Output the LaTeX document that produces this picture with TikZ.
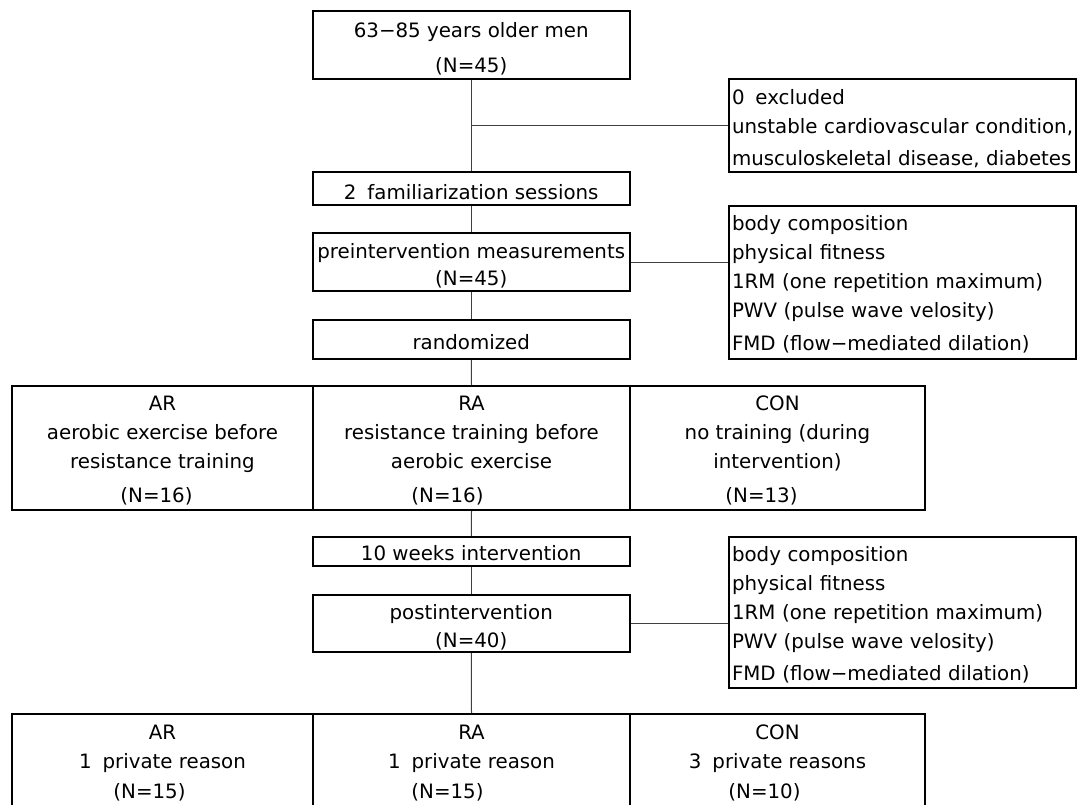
\documentclass[tikz,border=0pt]{standalone}
\usepackage{fontspec}
\setmainfont{DejaVu Sans}
\newcommand\st[1]{\rule{0pt}{#1pt}}
\begin{document}
\begin{tikzpicture}[x=0.75pt,y=-0.75pt,
  txt/.style={font=\fontsize{14.85}{21.75}\selectfont},
  box/.style={txt, draw=black, line width=1.5pt, inner sep=0pt, align=center},
  sidebox/.style={txt, draw=black, line width=1.5pt, inner xsep=2.25pt, inner ysep=0pt,
     text width=255.75pt, align=left},
  link/.style={draw=black!75, line width=0.75pt}]
\useasboundingbox (0,0) rectangle (1077,804);
\clip (0,0) rectangle (1077,804);

% main column
\node[box, minimum width=238.125pt, minimum height=51pt] (top) at (471.25,45)
  {\st{17.3}63−85 years older men\\[4.5pt](N=45)};
\node[box, minimum width=238.125pt, minimum height=24.75pt] (fam) at (471.25,188.5)
  {\st{17.3}2\hspace{0.55em}familiarization sessions};
\node[box, minimum width=238.125pt, minimum height=43.5pt] (pre) at (471.25,262)
  {\st{16.5}preintervention measurements\\[-1.5pt](N=45)};
\node[box, minimum width=238.125pt, minimum height=29.25pt] (rand) at (471.25,339.5)
  {\st{15.8}randomized};

% side boxes
\node[sidebox, minimum height=69.75pt] (excl) at (902.5,125.5)
  {\st{15.8}0\hspace{0.55em}excluded\\unstable cardiovascular condition,\\[2.25pt]\mbox{musculoskeletal disease, diabetes}};
\node[sidebox, minimum height=114.75pt] (meas1) at (902.5,282.5)
  {\st{14.3}body composition\\physical fitness\\1RM (one repetition maximum)\\PWV (pulse wave velosity)\\[3pt]FMD (flow−mediated dilation)};

% groups
\node[box, minimum width=225.75pt, minimum height=93pt] (gAR) at (162.5,448)
  {\st{15.3}AR\\aerobic exercise before\\resistance training\\[3.75pt](N=16)\hspace*{9pt}};
\node[box, minimum width=237.75pt, minimum height=93pt] (gRA) at (471.5,448)
  {\st{15.3}RA\\resistance training before\\aerobic exercise\\[3.75pt](N=16)\hspace*{36pt}};
\node[box, minimum width=221.25pt, minimum height=93pt] (gCON) at (777.5,448)
  {\st{15.3}CON\\no training (during\\intervention)\\[3.75pt](N=13)\hspace*{24pt}};

\node[box, minimum width=238.125pt, minimum height=21.75pt] (weeks) at (471.25,551.5)
  {\st{14.3}10 weeks intervention};
\node[box, minimum width=238.125pt, minimum height=42.75pt] (post) at (471.25,623.5)
  {\st{17.5}postintervention\\[-0.75pt](N=40)};
\node[sidebox, minimum height=113.25pt] (meas2) at (902.5,612.5)
  {\st{14.3}body composition\\physical fitness\\1RM (one repetition maximum)\\PWV (pulse wave velosity)\\[2.25pt]FMD (flow−mediated dilation)};

% final groups
\node[box, minimum width=225.75pt, minimum height=71.25pt] (fAR) at (162.5,761.5)
  {\st{13.05}AR\\1\hspace{0.55em}private reason\\[0.75pt](N=15)\hspace*{19.5pt}};
\node[box, minimum width=237.75pt, minimum height=71.25pt] (fRA) at (471.5,761.5)
  {\st{13.05}RA\\1\hspace{0.55em}private reason\\[0.75pt](N=15)\hspace*{36pt}};
\node[box, minimum width=221.25pt, minimum height=71.25pt] (fCON) at (777.5,761.5)
  {\st{13.05}CON\\3\hspace{0.55em}private reasons\\[0.75pt](N=10)\hspace*{19.5pt}};

% connectors
\coordinate (b1) at (top.south |- excl.west);
\draw[link] (top.south) -- (fam.north);
\draw[link] (b1) -- (excl.west);
\draw[link] (fam.south) -- (pre.north);
\draw[link] (pre.east) -- (pre.east -| meas1.west);
\draw[link] (pre.south) -- (rand.north);
\draw[link] (rand.south) -- (gRA.north);
\draw[link] (gRA.south) -- (weeks.north);
\draw[link] (weeks.south) -- (post.north);
\draw[link] (post.east) -- (post.east -| meas2.west);
\draw[link] (post.south) -- (fRA.north);
\end{tikzpicture}
\end{document}
